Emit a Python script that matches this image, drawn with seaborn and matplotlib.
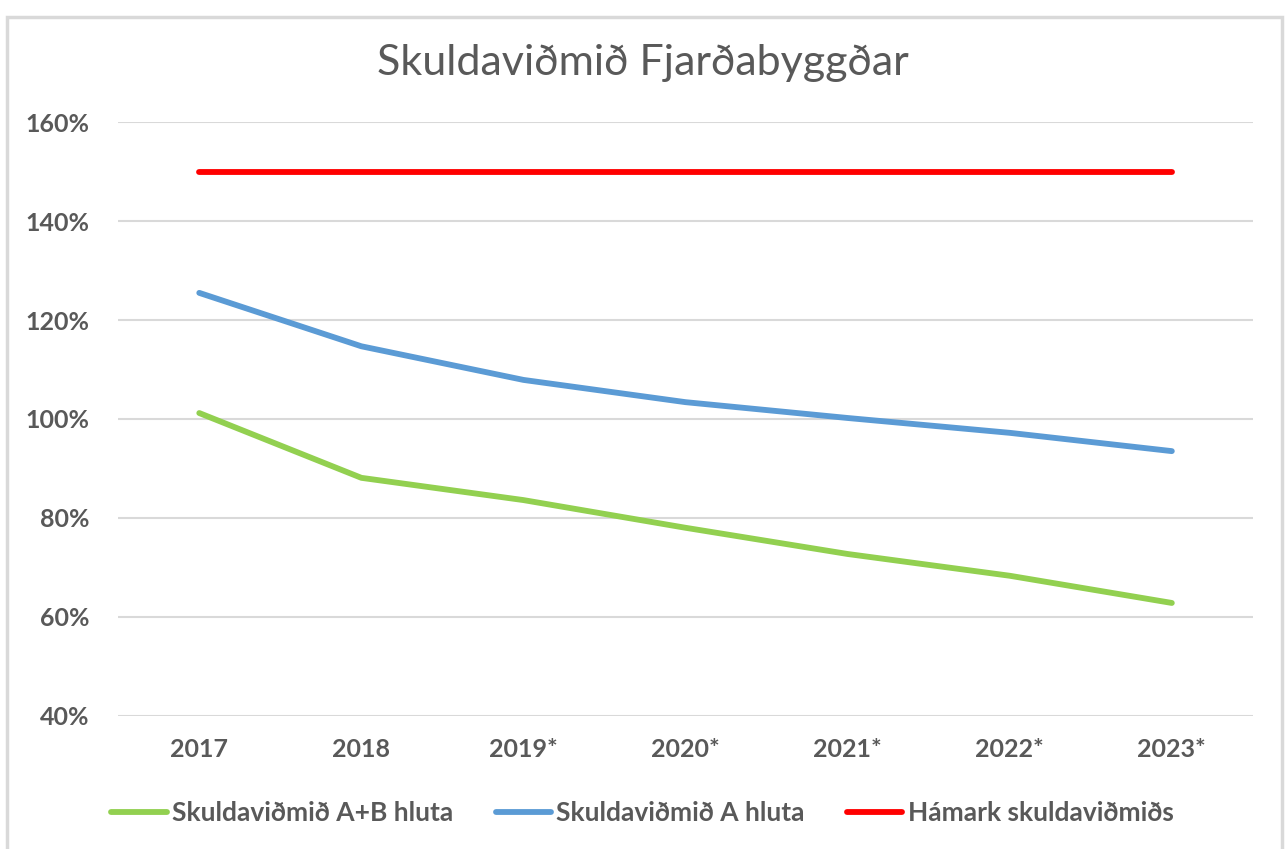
"""Skuldaviðmið Fjarðabyggðar – line chart recreated with seaborn."""

import matplotlib
matplotlib.use("Agg")
import matplotlib.pyplot as plt
import matplotlib.patches as mpatches
import pandas as pd
import seaborn as sns

years = ["2017", "2018", "2019*", "2020*", "2021*", "2022*", "2023*"]
ab_hluta = [101.2, 88.1, 83.6, 78.0, 72.7, 68.3, 62.8]
a_hluta = [125.5, 114.7, 107.9, 103.4, 100.2, 97.2, 93.5]
hamark = [150, 150, 150, 150, 150, 150, 150]

SERIES = {
    "Skuldaviðmið A+B hluta": ab_hluta,
    "Skuldaviðmið A hluta": a_hluta,
    "Hámark skuldaviðmiðs": hamark,
}
COLORS = ["#92D050", "#5B9BD5", "#FF0000"]
TEXT = "#595959"

df = pd.concat(
    [pd.DataFrame({"year": years, "value": vals, "series": name})
     for name, vals in SERIES.items()],
    ignore_index=True,
)

sns.set_theme(style="white")
plt.rcParams["font.family"] = ["Lato", "DejaVu Sans"]

fig = plt.figure(figsize=(12.85, 8.49), dpi=100)
ax = fig.add_axes([0.092, 0.157, 0.883, 0.699])

sns.lineplot(data=df, x="year", y="value", hue="series",
             palette=COLORS, linewidth=4.2, ax=ax, sort=False,
             solid_capstyle="round")
ax.get_legend().remove()

ax.set_xlim(-0.5, len(years) - 0.5)
ax.set_ylim(40, 160)
ax.set_yticks(range(40, 161, 20))
ax.set_yticklabels([f"{v}%" for v in range(40, 161, 20)])
ax.yaxis.grid(True, color="#D9D9D9", linewidth=1.5)
ax.set_axisbelow(True)
for s in ax.spines.values():
    s.set_visible(False)
ax.set_xlabel("")
ax.set_ylabel("")
ax.tick_params(axis="both", length=0, labelsize=18, labelcolor=TEXT)
ax.tick_params(axis="x", pad=16)
ax.tick_params(axis="y", pad=21)
for lbl in ax.get_xticklabels() + ax.get_yticklabels():
    lbl.set_fontweight("bold")

fig.text(0.5, 0.926, "Skuldaviðmið Fjarðabyggðar", ha="center", va="center",
         fontsize=31, color=TEXT)

handles = [plt.Line2D([], [], color=c, linewidth=4.2, solid_capstyle="round")
           for c in COLORS]
leg = fig.legend(handles, list(SERIES), loc="center", bbox_to_anchor=(0.5, 0.042),
                 ncol=3, frameon=False, handlelength=2.1, handletextpad=0.2,
                 columnspacing=1.6, prop={"size": 19, "weight": "bold"})
for t in leg.get_texts():
    t.set_color(TEXT)

fig.patches.append(mpatches.Rectangle((7 / 1285, -0.02), 1275 / 1285, 1.01 - 9 / 849,
                                      transform=fig.transFigure, fill=False,
                                      edgecolor="#D9D9D9", linewidth=2.5))

fig.savefig("out.png", dpi=100, facecolor="white")
